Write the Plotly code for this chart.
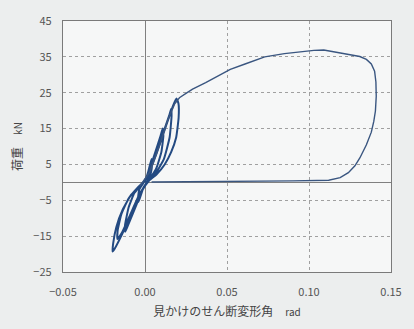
import plotly.graph_objects as go

# Cyclic part: apparent shear deformation angle (rad) vs load (kN)
cyclic_rad = [
    0.0, 0.002, 0.004, 0.0043, 0.0035, 0.0015, -0.001, -0.004, -0.0043, -0.0035, -0.0012,
    0.002, 0.006, 0.0095, 0.0108, 0.0112, 0.0100, 0.0070, 0.0030, -0.001, -0.005, -0.0095,
    -0.0120, -0.0122, -0.0100, -0.0065, -0.0025,
    0.002, 0.007, 0.0120, 0.0150, 0.0160, 0.0162, 0.0150, 0.0115, 0.0065, 0.0015, -0.003,
    -0.009, -0.0140, -0.0168, -0.0167, -0.0145, -0.0100, -0.0045,
    0.001, 0.007, 0.013, 0.0172, 0.0192, 0.0204, 0.0205, 0.0190, 0.0160, 0.0120, 0.0070,
    0.0025, -0.002, -0.008, -0.014, -0.0185, -0.0198, -0.0194, -0.0175, -0.0135, -0.0085, -0.003,
]
cyclic_kN = [
    0.0, 3.0, 6.5, 5.0, 2.5, 0.3, -1.5, -5.5, -4.5, -2.0, -0.3,
    2.5, 8.0, 13.0, 15.0, 13.0, 8.5, 4.0, 1.0, -1.5, -6.0, -11.0,
    -13.8, -12.0, -7.0, -3.0, -0.8,
    2.0, 8.5, 15.0, 19.0, 20.5, 18.5, 12.5, 6.5, 2.5, 0.0, -3.0,
    -9.0, -14.0, -15.8, -13.5, -9.0, -4.5, -1.5,
    1.0, 8.0, 16.0, 21.5, 23.4, 22.0, 18.0, 12.5, 8.5, 5.0, 2.2,
    0.5, -2.5, -8.5, -14.5, -18.5, -19.3, -17.0, -12.5, -7.5, -3.5, -1.0,
]

# Final monotonic push and unloading
push_rad = [
    -0.003, 0.003, 0.009, 0.014, 0.018, 0.021, 0.025, 0.029, 0.037, 0.045, 0.052, 0.061,
    0.073, 0.085, 0.095, 0.103, 0.109, 0.115, 0.121, 0.127, 0.131, 0.135, 0.138, 0.1400,
    0.1408, 0.141, 0.1405, 0.1395, 0.138, 0.135, 0.131, 0.128, 0.124, 0.119, 0.112, 0.09,
    0.06, 0.03, 0.004,
]
push_kN = [
    -1.0, 3.0, 10.5, 17.5, 21.8, 23.6, 24.8, 26.0, 27.8, 29.8, 31.5, 33.0,
    35.0, 35.9, 36.5, 36.8, 36.9, 36.4, 36.0, 35.6, 35.1, 34.3, 33.0, 31.0,
    28.0, 24.0, 19.9, 17.0, 14.0, 10.5, 6.8, 4.6, 2.7, 1.3, 0.6, 0.4,
    0.3, 0.2, 0.1,
]

x_ticks = [-0.05, 0.0, 0.05, 0.10, 0.15]
y_ticks = [-25, -15, -5, 5, 15, 25, 35, 45]

fig = go.Figure()
fig.add_trace(go.Scatter(
    x=cyclic_rad, y=cyclic_kN, mode="lines",
    line=dict(color="#234a82", width=2.0, shape="spline", smoothing=0.4),
    showlegend=False,
))
fig.add_trace(go.Scatter(
    x=push_rad, y=push_kN, mode="lines",
    line=dict(color="#3a5680", width=1.4),
    showlegend=False,
))

font_family = "Noto Sans CJK JP, Noto Sans, sans-serif"
axis_common = dict(
    showline=True, linecolor="#7a7a7a", linewidth=1.2, mirror=True,
    showgrid=True, gridcolor="#a0a0a0", griddash="3px,3px", gridwidth=1,
    zeroline=True, zerolinecolor="#808080", zerolinewidth=1.2,
    ticks="", tickfont=dict(family=font_family, size=11, color="#555555"),
)

fig.update_layout(
    width=414, height=329,
    margin=dict(l=63, r=17, t=18, b=56),
    paper_bgcolor="#eceeee",
    plot_bgcolor="#f6f7f7",
    font=dict(family=font_family, color="#555555"),
    xaxis=dict(
        range=[-0.05, 0.15], tickvals=x_ticks, tickformat=".2f",
        ticklabelstandoff=10,
        title=dict(text="見かけのせん断変形角　<span style='font-size:10px'>rad</span>",
                   font=dict(size=12, color="#444444"), standoff=9),
        **axis_common,
    ),
    yaxis=dict(
        range=[-25, 45], tickvals=y_ticks, ticklabelstandoff=8,
        title=dict(text="荷重　<span style='font-size:10px'>kN</span>",
                   font=dict(size=12, color="#444444"), standoff=8),
        **axis_common,
    ),
)

fig.write_html(
    "out.html",
    config={"displayModeBar": False},
    post_script="document.body.style.margin='0';document.body.style.background='#eceeee';",
)
